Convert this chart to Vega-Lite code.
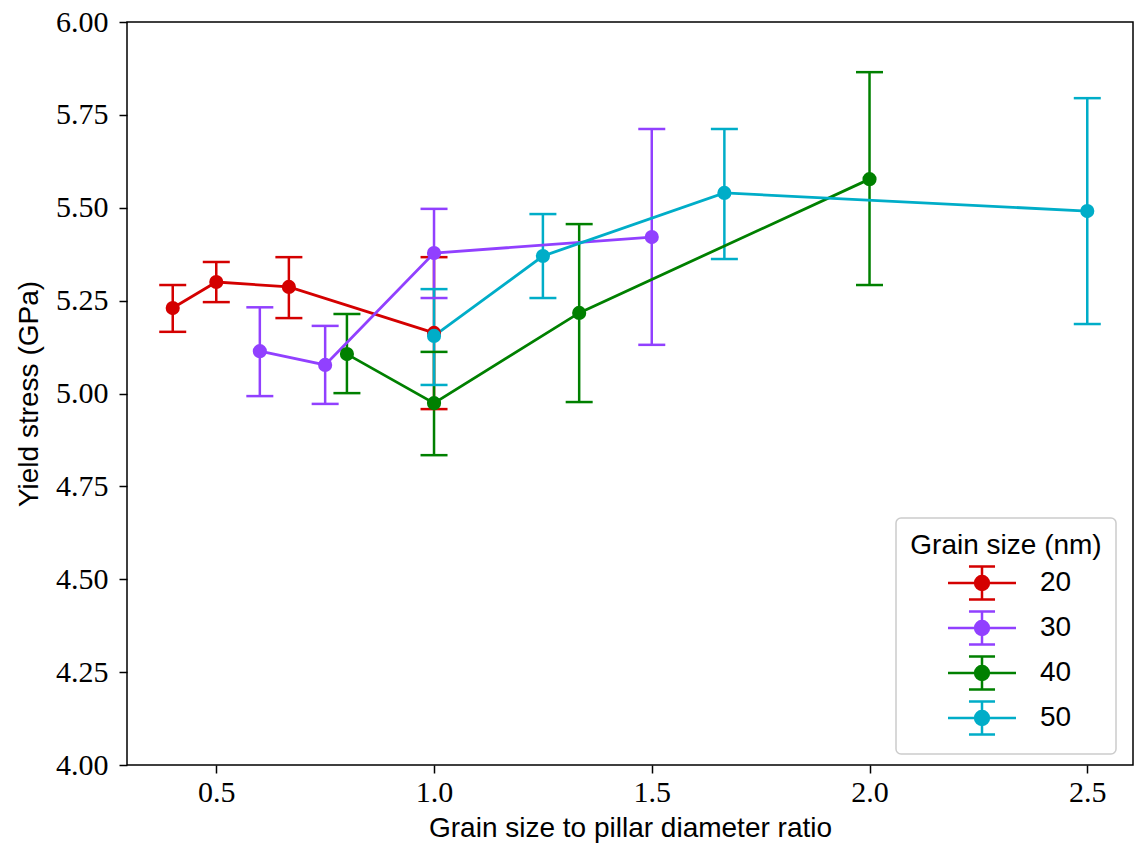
{
  "$schema": "https://vega.github.io/schema/vega-lite/v6.json",
  "width": 1006,
  "height": 743,
  "autosize": "none",
  "padding": {"left": 127, "top": 22, "right": 3, "bottom": 86},
  "background": "white",
  "config": {
    "view": {"stroke": "black", "strokeWidth": 1.5},
    "axis": {
      "grid": false,
      "domain": false,
      "tickColor": "black",
      "tickWidth": 1.5,
      "tickSize": 8,
      "labelFont": "Liberation Serif",
      "labelFontSize": 30,
      "labelColor": "black",
      "titleFont": "Liberation Sans",
      "titleFontSize": 28,
      "titleFontWeight": "normal",
      "titleColor": "black"
    },
    "axisY": {"labelPadding": 11, "titlePadding": 12},
    "axisX": {"labelPadding": 4, "titlePadding": 7}
  },
  "data": {
    "values": [
      {"r": 0.4, "y": 5.230, "lo": 5.166, "hi": 5.292, "g": "20"},
      {"r": 0.5, "y": 5.300, "lo": 5.246, "hi": 5.354, "g": "20"},
      {"r": 0.6667, "y": 5.287, "lo": 5.203, "hi": 5.367, "g": "20"},
      {"r": 1.0, "y": 5.163, "lo": 4.958, "hi": 5.367, "g": "20"},
      {"r": 0.6, "y": 5.114, "lo": 4.993, "hi": 5.232, "g": "30"},
      {"r": 0.75, "y": 5.077, "lo": 4.972, "hi": 5.182, "g": "30"},
      {"r": 1.0, "y": 5.378, "lo": 5.257, "hi": 5.497, "g": "30"},
      {"r": 1.5, "y": 5.421, "lo": 5.131, "hi": 5.712, "g": "30"},
      {"r": 0.8, "y": 5.106, "lo": 5.001, "hi": 5.214, "g": "40"},
      {"r": 1.0, "y": 4.974, "lo": 4.834, "hi": 5.112, "g": "40"},
      {"r": 1.3333, "y": 5.217, "lo": 4.977, "hi": 5.456, "g": "40"},
      {"r": 2.0, "y": 5.577, "lo": 5.292, "hi": 5.865, "g": "40"},
      {"r": 1.0, "y": 5.155, "lo": 5.023, "hi": 5.281, "g": "50"},
      {"r": 1.25, "y": 5.370, "lo": 5.257, "hi": 5.483, "g": "50"},
      {"r": 1.6667, "y": 5.540, "lo": 5.362, "hi": 5.712, "g": "50"},
      {"r": 2.5, "y": 5.491, "lo": 5.187, "hi": 5.795, "g": "50"}
    ]
  },
  "encoding": {
    "x": {
      "field": "r", "type": "quantitative",
      "scale": {"domain": [0.295, 2.605], "nice": false, "zero": false},
      "axis": {"values": [0.5, 1.0, 1.5, 2.0, 2.5], "format": ".1f", "title": "Grain size to pillar diameter ratio"}
    },
    "color": {
      "field": "g", "type": "nominal",
      "scale": {"domain": ["20", "30", "40", "50"], "range": ["#d40000", "#9140ff", "#008000", "#00adc8"]},
      "legend": {
        "title": "Grain size (nm)",
        "orient": "none",
        "legendX": 769,
        "legendY": 496,
        "fillColor": "white",
        "strokeColor": "#cccccc",
        "cornerRadius": 5,
        "padding": 14,
        "titleFont": "Liberation Sans",
        "titleFontSize": 28,
        "titleFontWeight": "normal",
        "titleColor": "black",
        "titleAnchor": "middle",
        "titleLimit": 400,
        "titlePadding": 5,
        "labelFont": "Liberation Sans",
        "labelFontSize": 28,
        "labelColor": "black",
        "labelOffset": 40,
        "symbolOffset": 24,
        "rowPadding": 1,
        "symbolType": "M-2.06,0H2.06M0,-1V1M-0.79,-1H0.79M-0.79,1H0.79M0.42,0A0.42,0.42 0 1,1 -0.42,0A0.42,0.42 0 1,1 0.42,0Z",
        "symbolSize": 1089,
        "symbolStrokeWidth": 2.5,
        "encode": {
          "legend": {"update": {"strokeWidth": {"value": 1.5}}},
          "symbols": {
            "update": {
              "fill": {"scale": "color", "field": "value"},
              "stroke": {"scale": "color", "field": "value"},
              "opacity": {"value": 1}
            }
          }
        }
      }
    }
  },
  "layer": [
    {
      "mark": {"type": "rule", "strokeWidth": 2.5},
      "encoding": {
        "y": {"field": "lo", "type": "quantitative"},
        "y2": {"field": "hi"}
      }
    },
    {
      "mark": {"type": "tick", "orient": "horizontal", "size": 27, "thickness": 2.5, "opacity": 1},
      "encoding": {"y": {"field": "lo", "type": "quantitative"}}
    },
    {
      "mark": {"type": "tick", "orient": "horizontal", "size": 27, "thickness": 2.5, "opacity": 1},
      "encoding": {"y": {"field": "hi", "type": "quantitative"}}
    },
    {
      "mark": {"type": "line", "strokeWidth": 2.8},
      "encoding": {
        "y": {
          "field": "y", "type": "quantitative",
          "scale": {"domain": [4, 6], "nice": false, "zero": false},
          "axis": {"values": [4, 4.25, 4.5, 4.75, 5, 5.25, 5.5, 5.75, 6], "format": ".2f", "title": "Yield stress (GPa)"}
        }
      }
    },
    {
      "mark": {"type": "point", "filled": true, "size": 200, "opacity": 1},
      "encoding": {"y": {"field": "y", "type": "quantitative"}}
    }
  ]
}
